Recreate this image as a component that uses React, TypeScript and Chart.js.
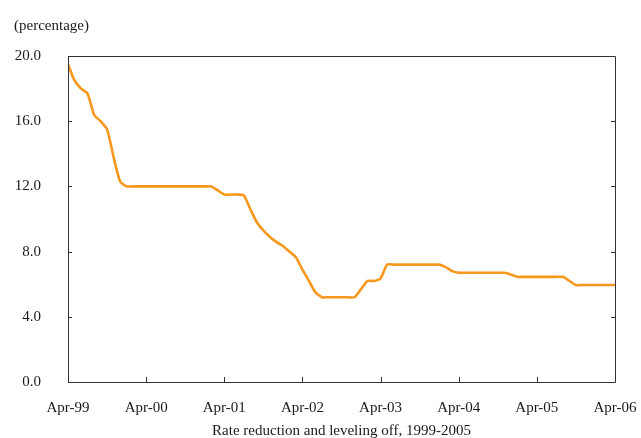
import React, { useEffect, useRef } from "react";
import { Chart, registerables } from "chart.js";

Chart.register(...registerables);

const xTickLabels = ["Apr-99", "Apr-00", "Apr-01", "Apr-02", "Apr-03", "Apr-04", "Apr-05", "Apr-06"];
const monthsPerTick = 12;

// Monthly rate (percentage), Apr-1999 .. Apr-2006
const rateValues = [
  19.5, 18.5, 18.0, 17.7, 16.4, 16.0, 15.5, 13.8, 12.3, 12.0,
  12.0, 12.0, 12.0, 12.0, 12.0, 12.0, 12.0, 12.0, 12.0, 12.0,
  12.0, 12.0, 12.0, 11.75, 11.5, 11.5, 11.5, 11.45, 10.6, 9.8,
  9.3, 8.9, 8.6, 8.34, 8.0, 7.66, 6.9, 6.2, 5.5, 5.2,
  5.2, 5.2, 5.2, 5.2, 5.2, 5.7, 6.2, 6.2, 6.35, 7.2,
  7.2, 7.2, 7.2, 7.2, 7.2, 7.2, 7.2, 7.2, 7.05, 6.8,
  6.7, 6.7, 6.7, 6.7, 6.7, 6.7, 6.7, 6.7, 6.6, 6.45,
  6.45, 6.45, 6.45, 6.45, 6.45, 6.45, 6.45, 6.2, 5.95, 5.95,
  5.95, 5.95, 5.95, 5.95, 5.95,
];

const yMin = 0;
const yMax = 20;
const yStep = 4;

const FONT = "'Liberation Serif', 'DejaVu Serif', serif";
const TEXT = "#1a1a1a";
const AXIS = "#333333";

const frameTicks = {
  id: "frameTicks",
  afterDraw(chart: any) {
    const { ctx, chartArea } = chart;
    const { left, right, top, bottom } = chartArea;
    const xs = chart.scales.x;
    const ys = chart.scales.y;
    ctx.save();
    ctx.strokeStyle = AXIS;
    ctx.lineWidth = 1;
    ctx.beginPath();
    ctx.rect(Math.round(left) + 0.5, Math.round(top) + 0.5, Math.round(right - left), Math.round(bottom - top));
    ctx.stroke();
    ctx.beginPath();
    xs.ticks.forEach((t: any) => {
      const px = Math.round(xs.getPixelForValue(t.value)) + 0.5;
      ctx.moveTo(px, bottom);
      ctx.lineTo(px, bottom - 5);
    });
    ys.ticks.forEach((t: any) => {
      const py = Math.round(ys.getPixelForValue(t.value)) + 0.5;
      ctx.moveTo(left, py);
      ctx.lineTo(left + 4, py);
      ctx.moveTo(right, py);
      ctx.lineTo(right - 4, py);
    });
    ctx.stroke();
    ctx.restore();
  },
};

export default function App() {
  const ref = useRef<HTMLCanvasElement | null>(null);
  useEffect(() => {
    if (!ref.current) return;
    const chart = new Chart(ref.current, {
      type: "line",
      data: {
        datasets: [
          {
            data: rateValues.map((y, i) => ({ x: i, y })),
            borderColor: "#F7981D",
            borderWidth: 2.6,
            pointRadius: 0,
            tension: 0.2,
            fill: false,
          },
        ],
      },
      options: {
        animation: false,
        responsive: false,
        maintainAspectRatio: false,
        layout: { padding: { left: 14, right: 26, top: 0, bottom: 0 } },
        plugins: {
          legend: { display: false },
          tooltip: { enabled: false },
          title: {
            display: true,
            text: "(percentage)",
            align: "start",
            color: TEXT,
            font: { family: FONT, size: 15, weight: "normal" },
            padding: { top: 17, bottom: 21 },
          },
        },
        scales: {
          x: {
            type: "linear",
            min: 0,
            max: rateValues.length - 1,
            border: { display: false },
            grid: { display: false, drawTicks: false },
            ticks: {
              stepSize: monthsPerTick,
              autoSkip: false,
              maxRotation: 0,
              padding: 17,
              color: TEXT,
              font: { family: FONT, size: 15 },
              callback: (v: any) => xTickLabels[Math.round(Number(v) / monthsPerTick)] ?? "",
            },
            title: {
              display: true,
              text: "Rate reduction and leveling off, 1999-2005",
              color: TEXT,
              font: { family: FONT, size: 15 },
              padding: { top: 8, bottom: -2 },
            },
            afterFit: (s: any) => {
              s.height = 56;
              s.paddingRight = 0;
              s.paddingLeft = 0;
            },
          },
          y: {
            min: yMin,
            max: yMax,
            border: { display: false },
            grid: { display: false, drawTicks: false },
            ticks: {
              stepSize: yStep,
              padding: 27,
              color: TEXT,
              font: { family: FONT, size: 15 },
              callback: (v: any) => Number(v).toFixed(1),
            },
            afterFit: (s: any) => {
              s.width = 54;
            },
          },
        },
      },
      plugins: [frameTicks],
    });
    return () => chart.destroy();
  }, []);
  return (
    <div style={{ position: "fixed", left: 0, top: 0, width: 641, height: 438, background: "#fff" }}>
      <canvas ref={ref} width={641} height={438} style={{ display: "block" }} />
    </div>
  );
}
